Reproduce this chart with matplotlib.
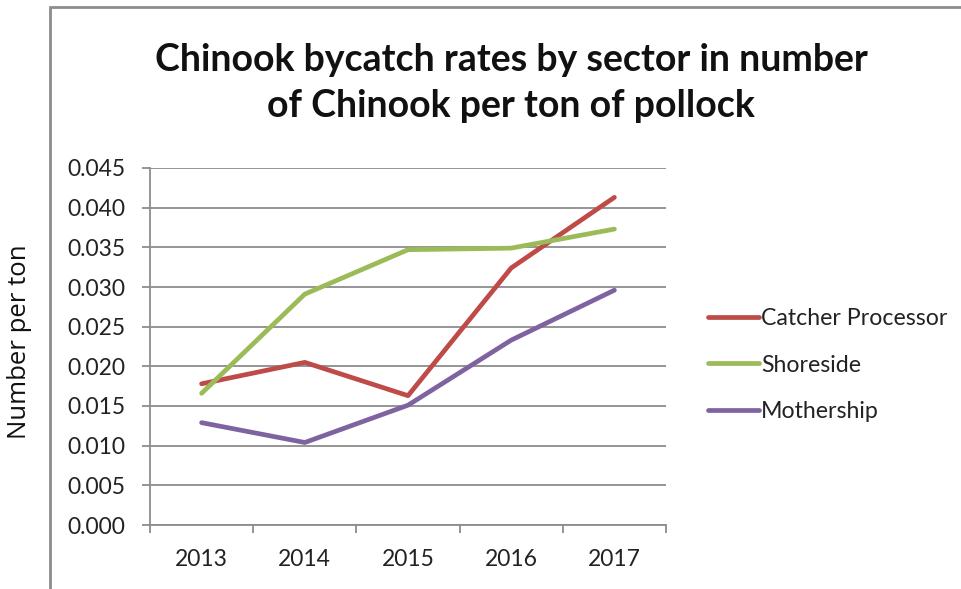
import matplotlib
matplotlib.use("Agg")
import matplotlib.pyplot as plt
from matplotlib.patches import Rectangle
from matplotlib.ticker import FormatStrFormatter, FixedLocator

years = ["2013", "2014", "2015", "2016", "2017"]
catcher_processor = [0.0178, 0.0205, 0.0163, 0.0324, 0.0413]
shoreside = [0.0166, 0.0291, 0.0347, 0.0349, 0.0373]
mothership = [0.0129, 0.0104, 0.0151, 0.0233, 0.0296]

series = [
    ("Catcher Processor", catcher_processor, "#BE4B48"),
    ("Shoreside", shoreside, "#9BBB59"),
    ("Mothership", mothership, "#7F63A1"),
]

W, H = 962, 589
fig = plt.figure(figsize=(W / 100, H / 100), dpi=100)
fig.patch.set_facecolor("white")

# chart area border (runs off the right and bottom edges)
fig.add_artist(Rectangle((50 / W, -0.05), 1.2, 1 - 7 / H + 0.05,
                         transform=fig.transFigure, fill=False,
                         edgecolor="#8c8c8c", lw=2))

ax = fig.add_axes([150 / W, 1 - 525 / H, (666 - 150) / W, (525 - 168) / H])

xs = [i + 0.5 for i in range(len(years))]
for name, vals, col in series:
    ax.plot(xs, vals, color=col, lw=3.4, label=name, solid_capstyle="round",
            solid_joinstyle="round")

ax.set_xlim(0, len(years))
ax.set_ylim(0, 0.045)
ax.set_yticks([i * 0.005 for i in range(10)])
ax.yaxis.set_major_formatter(FormatStrFormatter("%.3f"))
ax.xaxis.set_major_locator(FixedLocator(range(len(years) + 1)))
ax.xaxis.set_minor_locator(FixedLocator(xs))
ax.set_xticklabels([], minor=False)
ax.set_xticklabels(years, minor=True)

grey = "#8c8c8c"
ax.grid(axis="y", color=grey, lw=1.3)
ax.set_axisbelow(True)
for s in ["top", "right"]:
    ax.spines[s].set_visible(False)
for s in ["left", "bottom"]:
    ax.spines[s].set_color(grey)
    ax.spines[s].set_linewidth(1.3)

ax.tick_params(axis="y", direction="out", length=6, width=1.3, color=grey,
               pad=12, labelsize=16.5, labelcolor="#222222")
ax.tick_params(axis="x", which="major", direction="out", length=6, width=1.3,
               color=grey)
ax.tick_params(axis="x", which="minor", length=0, pad=17, labelsize=16.5,
               labelcolor="#222222")
for lab in ax.get_yticklabels() + ax.get_xticklabels(minor=True):
    lab.set_family("Lato")

fig.text(511 / W, 1 - 83 / H,
         "Chinook bycatch rates by sector in number\nof Chinook per ton of pollock",
         ha="center", va="center", family="Lato", weight="bold", size=27,
         linespacing=1.4, color="#111111")

fig.text(20 / W, 1 - 342 / H, "Number per ton", rotation=90, ha="center",
         va="center", family="Open Sans", size=18.5, color="#111111")

leg = ax.legend(loc="center left", bbox_to_anchor=(687 / W, 1 - 365 / H),
                bbox_transform=fig.transFigure, frameon=False,
                handlelength=2.2, handletextpad=0.1, labelspacing=1.1,
                prop=dict(family="Lato", size=16.7))
for t in leg.get_texts():
    t.set_color("#222222")

fig.savefig("out.png", dpi=100)
